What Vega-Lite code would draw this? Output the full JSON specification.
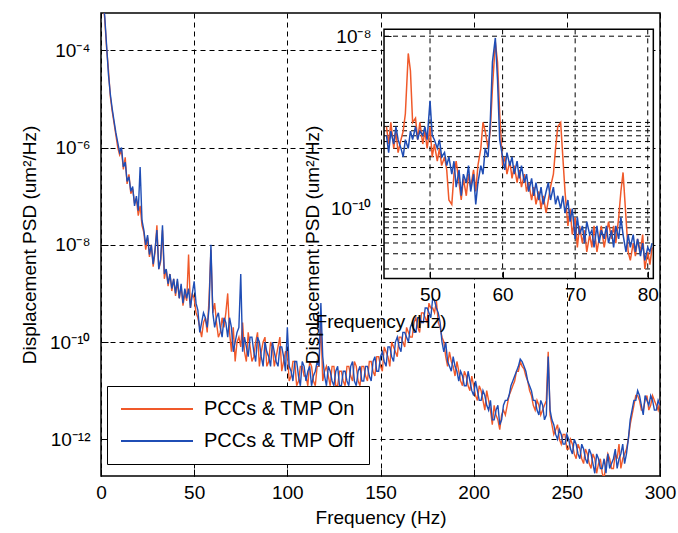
{
 "$schema": "https://vega.github.io/schema/vega-lite/v6.json",
 "width": 559, "height": 463,
 "autosize": {"type": "none"},
 "padding": {"left": 101, "top": 13, "right": 18, "bottom": 57},
 "background": "white",
 "config": {
   "font": "Liberation Sans",
   "view": {"stroke": "black", "strokeWidth": 1.5},
   "axis": {"labelFont": "Liberation Sans", "titleFont": "Liberation Sans", "labelFontSize": 19, "titleFontSize": 19, "titleFontWeight": "normal", "labelColor": "black", "titleColor": "black", "domainColor": "black", "tickColor": "black", "gridColor": "black", "gridOpacity": 1, "gridDash": [5, 4], "gridWidth": 1},
   "legend": {"labelFont": "Liberation Sans"}
 },
 "datasets": {
  "main": [
   {"f":1,"on":1e-3,"off":1.26e-3},{"f":2,"on":4.47e-4,"off":5.01e-4},{"f":3,"on":1.12e-4,"off":1.26e-4},{"f":4,"on":3.98e-5,"off":3.16e-5},{"f":5,"on":1.12e-5,"off":1.26e-5},{"f":6,"on":5.62e-6,"off":6.31e-6},{"f":7,"on":3.16e-6,"off":3.55e-6},{"f":8,"on":1.78e-6,"off":2.0e-6},{"f":9,"on":1e-6,"off":1.26e-6},{"f":10,"on":7.08e-7,"off":7.94e-7},
   {"f":11,"on":8.91e-7,"off":1e-6},{"f":12,"on":3.55e-7,"off":3.98e-7},{"f":13,"on":6.31e-7,"off":5.01e-7},{"f":14,"on":1.78e-7,"off":2.0e-7},{"f":15,"on":2.82e-7,"off":2.51e-7},{"f":16,"on":1.12e-7,"off":1.26e-7},{"f":17,"on":1.41e-7,"off":1.58e-7},{"f":18,"on":7.08e-8,"off":6.31e-8},{"f":19,"on":8.91e-8,"off":1e-7},{"f":20,"on":3.98e-8,"off":5.01e-8},
   {"f":21,"on":6.31e-8,"off":3.98e-7},{"f":22,"on":2.51e-8,"off":3.16e-8},{"f":23,"on":1.78e-8,"off":2.0e-8},{"f":24,"on":7.94e-9,"off":1e-8},{"f":25,"on":1.41e-8,"off":1.58e-8},{"f":26,"on":5.62e-9,"off":6.31e-9},{"f":27,"on":1e-8,"off":1e-8},{"f":28,"on":3.55e-9,"off":3.98e-9},{"f":29,"on":7.08e-9,"off":7.94e-9},{"f":30,"on":2.51e-8,"off":2.0e-8},
   {"f":31,"on":3.16e-9,"off":3.16e-9},{"f":32,"on":4.47e-9,"off":5.01e-9},{"f":33,"on":2.0e-8,"off":2.51e-8},{"f":34,"on":2.0e-9,"off":2.51e-9},{"f":35,"on":3.16e-9,"off":3.16e-9},{"f":36,"on":1.41e-9,"off":1.58e-9},{"f":37,"on":2.51e-9,"off":2.51e-9},{"f":38,"on":1.12e-9,"off":1.26e-9},{"f":39,"on":2.0e-9,"off":2.0e-9},{"f":40,"on":8.91e-10,"off":1e-9},
   {"f":41,"on":1.78e-9,"off":2.0e-9},{"f":42,"on":7.94e-10,"off":7.94e-10},{"f":43,"on":1.41e-9,"off":1.58e-9},{"f":44,"on":5.62e-10,"off":6.31e-10},{"f":45,"on":1e-9,"off":1.26e-9},{"f":46,"on":7.08e-10,"off":7.94e-10},{"f":47,"on":6.31e-9,"off":1.26e-9},{"f":48,"on":5.01e-10,"off":5.01e-10},{"f":49,"on":1e-9,"off":1e-9},{"f":50,"on":7.94e-10,"off":1.78e-9},
   {"f":52,"on":3.16e-10,"off":4.47e-10},{"f":54,"on":1.26e-10,"off":2.51e-10},{"f":56,"on":3.16e-10,"off":3.16e-10},{"f":58,"on":7.94e-10,"off":5.01e-10},{"f":59,"on":7.94e-9,"off":1e-8},{"f":60,"on":3.98e-10,"off":3.98e-10},{"f":62,"on":2.51e-10,"off":3.16e-10},{"f":64,"on":1.58e-10,"off":2.0e-10},{"f":66,"on":2.0e-10,"off":3.16e-10},{"f":68,"on":1e-9,"off":1.26e-10},
   {"f":70,"on":6.31e-11,"off":2.0e-10},{"f":72,"on":3.98e-11,"off":1e-10},{"f":74,"on":1.26e-10,"off":2.0e-10},{"f":75,"on":7.94e-11,"off":2.51e-9},{"f":76,"on":2.51e-10,"off":6.31e-11},{"f":78,"on":3.98e-11,"off":7.94e-11},{"f":80,"on":7.94e-11,"off":1.26e-10},{"f":82,"on":5.01e-11,"off":6.31e-11},{"f":84,"on":1.58e-10,"off":1.26e-10},{"f":86,"on":6.31e-11,"off":5.01e-11},
   {"f":88,"on":1.26e-10,"off":1e-10},{"f":90,"on":3.98e-11,"off":5.01e-11},{"f":92,"on":7.94e-11,"off":1e-10},{"f":94,"on":5.01e-11,"off":3.98e-11},{"f":96,"on":1.26e-10,"off":7.94e-11},{"f":98,"on":3.98e-11,"off":5.01e-11},{"f":100,"on":6.31e-11,"off":2.0e-10},{"f":102,"on":2.0e-11,"off":2.51e-11},{"f":104,"on":3.98e-11,"off":3.98e-11},{"f":106,"on":1.58e-11,"off":2.0e-11},
   {"f":108,"on":3.16e-11,"off":3.98e-11},{"f":110,"on":2.0e-11,"off":1.58e-11},{"f":112,"on":3.98e-11,"off":3.16e-11},{"f":114,"on":1.58e-11,"off":2.0e-11},{"f":116,"on":3.16e-11,"off":3.98e-11},{"f":118,"on":2.51e-10,"off":6.31e-10},{"f":120,"on":2.51e-11,"off":2.0e-11},{"f":122,"on":2.0e-11,"off":3.16e-11},{"f":124,"on":3.16e-11,"off":1.58e-11},{"f":126,"on":1.26e-11,"off":2.51e-11},
   {"f":128,"on":2.51e-11,"off":1.26e-11},{"f":130,"on":1.58e-11,"off":2.51e-11},{"f":132,"on":3.16e-11,"off":1.58e-11},{"f":134,"on":2.0e-11,"off":3.16e-11},{"f":136,"on":3.98e-11,"off":1.58e-11},{"f":138,"on":1.58e-11,"off":2.51e-11},{"f":140,"on":3.16e-11,"off":1.58e-11},{"f":142,"on":2.0e-11,"off":3.16e-11},{"f":144,"on":3.98e-11,"off":2.0e-11},{"f":146,"on":2.51e-11,"off":3.98e-11},
   {"f":148,"on":5.01e-11,"off":2.51e-11},{"f":150,"on":3.16e-11,"off":5.01e-11},{"f":152,"on":7.94e-11,"off":3.98e-11},{"f":154,"on":5.01e-11,"off":7.94e-11},{"f":156,"on":1e-10,"off":5.01e-11},{"f":158,"on":6.31e-11,"off":1e-10},{"f":160,"on":1.26e-10,"off":7.94e-11},{"f":162,"on":1e-10,"off":1.58e-10},{"f":164,"on":2.0e-10,"off":1.26e-10},{"f":166,"on":1.26e-10,"off":2.0e-10},
   {"f":168,"on":2.51e-10,"off":1.58e-10},{"f":170,"on":2.0e-10,"off":3.16e-10},{"f":172,"on":3.98e-10,"off":2.51e-10},{"f":174,"on":3.16e-10,"off":5.01e-10},{"f":176,"on":6.31e-10,"off":3.98e-10},{"f":178,"on":5.01e-10,"off":7.94e-10},{"f":180,"on":7.08e-10,"off":5.01e-10},{"f":182,"on":2.0e-10,"off":2.51e-10},{"f":184,"on":1e-10,"off":6.31e-11},{"f":186,"on":3.16e-11,"off":3.98e-11},
   {"f":188,"on":3.98e-11,"off":2.51e-11},{"f":190,"on":2.0e-11,"off":3.16e-11},{"f":192,"on":2.51e-11,"off":1.58e-11},{"f":194,"on":1.26e-11,"off":2.0e-11},{"f":196,"on":2.0e-11,"off":1.26e-11},{"f":198,"on":1e-11,"off":1.58e-11},{"f":200,"on":1.26e-11,"off":7.94e-12},{"f":202,"on":6.31e-12,"off":1e-11},{"f":204,"on":1e-11,"off":6.31e-12},{"f":206,"on":3.98e-12,"off":7.94e-12},
   {"f":208,"on":6.31e-12,"off":3.98e-12},{"f":210,"on":2.0e-12,"off":2.51e-12},{"f":212,"on":3.16e-12,"off":3.98e-12},{"f":214,"on":1.58e-12,"off":2.0e-12},{"f":216,"on":3.98e-12,"off":5.01e-12},{"f":218,"on":5.01e-12,"off":6.31e-12},{"f":220,"on":1e-11,"off":1.26e-11},{"f":222,"on":1.58e-11,"off":2.0e-11},{"f":224,"on":2.51e-11,"off":3.16e-11},{"f":226,"on":3.16e-11,"off":3.98e-11},
   {"f":228,"on":2.0e-11,"off":2.51e-11},{"f":230,"on":1e-11,"off":1.26e-11},{"f":232,"on":5.01e-12,"off":6.31e-12},{"f":234,"on":6.31e-12,"off":3.98e-12},{"f":236,"on":3.16e-12,"off":6.31e-12},{"f":238,"on":5.01e-12,"off":2.51e-12},{"f":240,"on":6.31e-11,"off":5.01e-11},{"f":242,"on":2.0e-12,"off":2.51e-12},{"f":244,"on":1.58e-12,"off":1.26e-12},{"f":246,"on":1e-12,"off":1.58e-12},
   {"f":248,"on":1.26e-12,"off":7.94e-13},{"f":250,"on":6.31e-13,"off":1.26e-12},{"f":252,"on":1e-12,"off":6.31e-13},{"f":254,"on":5.01e-13,"off":1e-12},{"f":256,"on":7.94e-13,"off":5.01e-13},{"f":258,"on":3.98e-13,"off":7.94e-13},{"f":260,"on":6.31e-13,"off":3.98e-13},{"f":262,"on":3.16e-13,"off":6.31e-13},{"f":264,"on":5.01e-13,"off":3.16e-13},{"f":266,"on":2.0e-13,"off":5.01e-13},
   {"f":268,"on":3.98e-13,"off":2.51e-13},{"f":270,"on":1.58e-13,"off":3.98e-13},{"f":272,"on":5.01e-13,"off":5.01e-13},{"f":274,"on":2.51e-13,"off":3.16e-13},{"f":276,"on":5.01e-13,"off":6.31e-13},{"f":278,"on":7.94e-13,"off":3.98e-13},{"f":280,"on":3.98e-13,"off":7.94e-13},{"f":282,"on":6.31e-13,"off":5.01e-13},{"f":284,"on":2.0e-12,"off":2.51e-12},{"f":286,"on":5.01e-12,"off":6.31e-12},
   {"f":288,"on":7.94e-12,"off":1e-11},{"f":290,"on":3.98e-12,"off":5.01e-12},{"f":292,"on":6.31e-12,"off":7.94e-12},{"f":294,"on":3.98e-12,"off":5.01e-12},{"f":296,"on":7.94e-12,"off":6.31e-12},{"f":298,"on":5.01e-12,"off":3.98e-12},{"f":300,"on":6.31e-12,"off":5.01e-12},
   {"f":51,"on":3.98e-10,"off":6.31e-10},{"f":53,"on":2.0e-10,"off":1.58e-10},{"f":55,"on":2.51e-10,"off":3.98e-10},{"f":57,"on":1.58e-10,"off":2.0e-10},{"f":61,"on":6.31e-10,"off":2.0e-10},{"f":63,"on":1.26e-10,"off":3.98e-10},{"f":65,"on":3.16e-10,"off":1.26e-10},{"f":67,"on":3.98e-10,"off":2.51e-10},{"f":69,"on":1.58e-10,"off":3.16e-10},{"f":71,"on":2.0e-10,"off":6.31e-11},
   {"f":73,"on":1e-10,"off":1.58e-10},{"f":77,"on":6.31e-11,"off":1.26e-10},{"f":79,"on":1.58e-10,"off":5.01e-11},{"f":81,"on":3.98e-11,"off":1.26e-10},{"f":83,"on":1e-10,"off":3.98e-11},{"f":85,"on":3.16e-11,"off":1e-10},{"f":87,"on":1e-10,"off":3.16e-11},{"f":89,"on":3.16e-11,"off":6.31e-11},{"f":91,"on":1e-10,"off":3.16e-11},{"f":93,"on":3.16e-11,"off":6.31e-11},
   {"f":95,"on":7.94e-11,"off":3.16e-11},{"f":97,"on":2.51e-11,"off":7.94e-11},{"f":99,"on":6.31e-11,"off":2.51e-11},{"f":101,"on":1.58e-11,"off":3.16e-11},{"f":103,"on":3.98e-11,"off":1.58e-11},{"f":105,"on":1.26e-11,"off":3.98e-11},{"f":107,"on":3.16e-11,"off":1.26e-11},{"f":109,"on":2.0e-11,"off":3.16e-11},{"f":111,"on":1.26e-11,"off":2.51e-11},{"f":113,"on":3.16e-11,"off":1.26e-11},
   {"f":115,"on":1.26e-11,"off":2.51e-11},{"f":117,"on":3.16e-11,"off":3.16e-11},{"f":119,"on":1.58e-11,"off":5.01e-11},{"f":121,"on":3.16e-11,"off":1.26e-11},{"f":123,"on":1.26e-11,"off":2.51e-11},{"f":125,"on":3.16e-11,"off":1.26e-11},{"f":127,"on":1.26e-11,"off":3.16e-11},{"f":129,"on":2.51e-11,"off":1.26e-11},{"f":131,"on":1.26e-11,"off":2.51e-11},{"f":133,"on":3.16e-11,"off":1.26e-11},
   {"f":135,"on":1.58e-11,"off":3.98e-11},{"f":137,"on":3.16e-11,"off":1.26e-11},{"f":139,"on":1.26e-11,"off":3.16e-11},{"f":141,"on":3.16e-11,"off":1.58e-11},{"f":143,"on":1.58e-11,"off":3.16e-11},{"f":145,"on":3.98e-11,"off":1.58e-11},{"f":147,"on":2.0e-11,"off":5.01e-11},{"f":149,"on":5.01e-11,"off":2.51e-11},{"f":151,"on":2.51e-11,"off":6.31e-11},{"f":153,"on":6.31e-11,"off":3.16e-11},
   {"f":155,"on":3.16e-11,"off":7.94e-11},{"f":157,"on":7.94e-11,"off":3.98e-11},{"f":159,"on":5.01e-11,"off":1.26e-10},{"f":161,"on":1.26e-10,"off":6.31e-11},{"f":163,"on":7.94e-11,"off":1.58e-10},{"f":165,"on":1.58e-10,"off":1e-10},{"f":167,"on":1.26e-10,"off":2.51e-10},{"f":169,"on":3.16e-10,"off":1.58e-10},{"f":171,"on":1.58e-10,"off":3.16e-10},{"f":173,"on":3.98e-10,"off":2.51e-10},
   {"f":175,"on":2.51e-10,"off":5.01e-10},{"f":177,"on":5.01e-10,"off":3.16e-10},{"f":179,"on":3.98e-10,"off":7.08e-10},{"f":181,"on":2.51e-10,"off":3.98e-10},{"f":183,"on":1.26e-10,"off":1e-10},{"f":185,"on":5.01e-11,"off":1e-10},{"f":187,"on":6.31e-11,"off":3.16e-11},{"f":189,"on":3.16e-11,"off":5.01e-11},{"f":191,"on":3.98e-11,"off":2.51e-11},{"f":193,"on":1.58e-11,"off":2.51e-11},
   {"f":195,"on":2.51e-11,"off":1.26e-11},{"f":197,"on":1.26e-11,"off":2.51e-11},{"f":199,"on":2.0e-11,"off":1e-11},{"f":201,"on":7.94e-12,"off":1.58e-11},{"f":203,"on":1.26e-11,"off":6.31e-12},{"f":205,"on":6.31e-12,"off":1e-11},{"f":207,"on":1e-11,"off":5.01e-12},{"f":209,"on":3.98e-12,"off":6.31e-12},{"f":211,"on":5.01e-12,"off":2.51e-12},{"f":213,"on":2.51e-12,"off":5.01e-12},
   {"f":215,"on":3.16e-12,"off":2.51e-12},{"f":217,"on":3.16e-12,"off":6.31e-12},{"f":219,"on":7.94e-12,"off":7.94e-12},{"f":221,"on":1.26e-11,"off":1.58e-11},{"f":223,"on":2.51e-11,"off":2.51e-11},{"f":225,"on":3.98e-11,"off":4.47e-11},{"f":227,"on":2.82e-11,"off":3.16e-11},{"f":229,"on":1.58e-11,"off":1.58e-11},{"f":231,"on":7.94e-12,"off":1e-11},{"f":233,"on":3.98e-12,"off":6.31e-12},
   {"f":235,"on":5.01e-12,"off":3.16e-12},{"f":237,"on":3.98e-12,"off":5.01e-12},{"f":239,"on":6.31e-12,"off":3.16e-12},{"f":241,"on":3.16e-12,"off":3.98e-12},{"f":243,"on":1.26e-12,"off":2.0e-12},{"f":245,"on":2.0e-12,"off":1e-12},{"f":247,"on":7.94e-13,"off":1.26e-12},{"f":249,"on":1.26e-12,"off":7.94e-13},{"f":251,"on":6.31e-13,"off":1e-12},{"f":253,"on":7.94e-13,"off":5.01e-13},
   {"f":255,"on":3.98e-13,"off":7.94e-13},{"f":257,"on":6.31e-13,"off":3.98e-13},{"f":259,"on":3.16e-13,"off":6.31e-13},{"f":261,"on":5.01e-13,"off":3.16e-13},{"f":263,"on":2.51e-13,"off":5.01e-13},{"f":265,"on":3.98e-13,"off":2.0e-13},{"f":267,"on":3.16e-13,"off":3.98e-13},{"f":269,"on":2.0e-13,"off":2.51e-13},{"f":271,"on":3.16e-13,"off":2.0e-13},{"f":273,"on":3.98e-13,"off":2.51e-13},
   {"f":275,"on":2.51e-13,"off":3.98e-13},{"f":277,"on":3.98e-13,"off":2.51e-13},{"f":279,"on":2.51e-13,"off":5.01e-13},{"f":281,"on":5.01e-13,"off":3.16e-13},{"f":283,"on":1e-12,"off":1e-12},{"f":285,"on":3.16e-12,"off":3.98e-12},{"f":287,"on":7.94e-12,"off":6.31e-12},{"f":289,"on":6.31e-12,"off":7.94e-12},{"f":291,"on":3.98e-12,"off":3.16e-12},{"f":293,"on":7.94e-12,"off":6.31e-12},
   {"f":295,"on":5.01e-12,"off":7.94e-12},{"f":297,"on":6.31e-12,"off":3.98e-12},{"f":299,"on":3.98e-12,"off":6.31e-12}
  ],
  "inset": [
   {"f":44.0,"on":8.91e-10,"off":7.08e-10},{"f":44.3,"on":5.62e-10,"off":4.47e-10},{"f":44.6,"on":1e-9,"off":7.94e-10},{"f":45.0,"on":5.0e-10,"off":5.62e-10},{"f":45.3,"on":7.94e-10,"off":8.91e-10},{"f":45.6,"on":4.47e-10,"off":6.31e-10},{"f":46.0,"on":6.31e-10,"off":5.0e-10},{"f":46.3,"on":7.94e-10,"off":3.98e-10},{"f":46.6,"on":1.26e-9,"off":6.31e-10},{"f":47.0,"on":6.31e-9,"off":5.0e-10},
   {"f":47.3,"on":3.98e-9,"off":7.94e-10},{"f":47.6,"on":1e-9,"off":6.31e-10},{"f":48.0,"on":1.12e-9,"off":8.91e-10},{"f":48.3,"on":6.31e-10,"off":6.31e-10},{"f":48.6,"on":1e-9,"off":7.94e-10},{"f":49.0,"on":5.62e-10,"off":7.08e-10},{"f":49.3,"on":7.94e-10,"off":8.91e-10},{"f":49.6,"on":5.0e-10,"off":6.31e-10},{"f":50.0,"on":8.91e-10,"off":1.78e-9},{"f":50.3,"on":3.98e-10,"off":7.08e-10},
   {"f":50.6,"on":5.62e-10,"off":6.31e-10},{"f":51.0,"on":3.55e-10,"off":5.0e-10},{"f":51.3,"on":5.0e-10,"off":6.31e-10},{"f":51.6,"on":3.16e-10,"off":3.98e-10},{"f":52.0,"on":3.98e-10,"off":4.47e-10},{"f":52.3,"on":2.82e-10,"off":3.16e-10},{"f":52.6,"on":1.26e-10,"off":3.98e-10},{"f":53.0,"on":1.12e-10,"off":2.51e-10},{"f":53.3,"on":2.51e-10,"off":3.55e-10},{"f":53.6,"on":3.55e-10,"off":1.78e-10},
   {"f":54.0,"on":2.0e-10,"off":2.82e-10},{"f":54.3,"on":1.26e-10,"off":1.41e-10},{"f":54.6,"on":2.24e-10,"off":2.51e-10},{"f":55.0,"on":1.41e-10,"off":2.0e-10},{"f":55.3,"on":2.51e-10,"off":3.16e-10},{"f":55.6,"on":1.78e-10,"off":1.58e-10},{"f":56.0,"on":2.82e-10,"off":2.51e-10},{"f":56.3,"on":1.58e-10,"off":1.12e-10},{"f":56.6,"on":3.16e-10,"off":2.0e-10},{"f":57.0,"on":5.0e-10,"off":3.16e-10},
   {"f":57.3,"on":1e-9,"off":2.51e-10},{"f":57.6,"on":7.94e-10,"off":5.0e-10},{"f":58.0,"on":5.0e-10,"off":3.98e-10},{"f":58.3,"on":7.94e-10,"off":1e-9},{"f":58.6,"on":2.51e-9,"off":5.01e-9},{"f":59.0,"on":8.51e-9,"off":9.55e-9},{"f":59.3,"on":5.01e-9,"off":3.16e-9},{"f":59.6,"on":1.26e-9,"off":6.31e-10},{"f":60.0,"on":3.16e-10,"off":3.98e-10},{"f":60.3,"on":3.98e-10,"off":2.82e-10},
   {"f":60.6,"on":2.51e-10,"off":4.47e-10},{"f":61.0,"on":3.55e-10,"off":3.16e-10},{"f":61.3,"on":2.24e-10,"off":3.98e-10},{"f":61.6,"on":3.16e-10,"off":2.51e-10},{"f":62.0,"on":2.0e-10,"off":3.55e-10},{"f":62.3,"on":2.82e-10,"off":2.24e-10},{"f":62.6,"on":1.78e-10,"off":3.16e-10},{"f":63.0,"on":2.51e-10,"off":2.0e-10},{"f":63.3,"on":1.58e-10,"off":2.51e-10},{"f":63.6,"on":2.0e-10,"off":1.58e-10},
   {"f":64.0,"on":1.26e-10,"off":2.24e-10},{"f":64.3,"on":1.78e-10,"off":1.41e-10},{"f":64.6,"on":1.12e-10,"off":2.0e-10},{"f":65.0,"on":1.58e-10,"off":1.26e-10},{"f":65.3,"on":1e-10,"off":1.78e-10},{"f":65.6,"on":1.41e-10,"off":1.12e-10},{"f":66.0,"on":8.91e-11,"off":1.58e-10},{"f":66.3,"on":1.26e-10,"off":2.0e-10},{"f":66.6,"on":1.78e-10,"off":1.26e-10},{"f":67.0,"on":2.51e-10,"off":1.78e-10},
   {"f":67.3,"on":5.01e-10,"off":1.12e-10},{"f":67.6,"on":8.91e-10,"off":1.41e-10},{"f":68.0,"on":1e-9,"off":1e-10},{"f":68.3,"on":3.98e-10,"off":1.41e-10},{"f":68.6,"on":1.58e-10,"off":8.91e-11},{"f":69.0,"on":6.31e-11,"off":1.26e-10},{"f":69.3,"on":1e-10,"off":7.08e-11},{"f":69.6,"on":5.01e-11,"off":1e-10},{"f":70.0,"on":7.94e-11,"off":4.47e-11},{"f":70.3,"on":3.55e-11,"off":7.94e-11},
   {"f":70.6,"on":6.31e-11,"off":5.01e-11},{"f":71.0,"on":3.98e-11,"off":6.31e-11},{"f":71.3,"on":5.62e-11,"off":3.98e-11},{"f":71.6,"on":3.16e-11,"off":7.08e-11},{"f":72.0,"on":5.01e-11,"off":5.01e-11},{"f":72.3,"on":3.55e-11,"off":5.62e-11},{"f":72.6,"on":6.31e-11,"off":3.55e-11},{"f":73.0,"on":3.16e-11,"off":6.31e-11},{"f":73.3,"on":4.47e-11,"off":3.98e-11},{"f":73.6,"on":6.31e-11,"off":5.62e-11},
   {"f":74.0,"on":3.55e-11,"off":4.47e-11},{"f":74.3,"on":5.01e-11,"off":6.31e-11},{"f":74.6,"on":7.08e-11,"off":3.98e-11},{"f":75.0,"on":4.47e-11,"off":5.62e-11},{"f":75.3,"on":6.31e-11,"off":3.55e-11},{"f":75.6,"on":3.98e-11,"off":6.31e-11},{"f":76.0,"on":7.94e-11,"off":4.47e-11},{"f":76.3,"on":1.58e-10,"off":7.94e-11},{"f":76.6,"on":2.63e-10,"off":5.01e-11},{"f":77.0,"on":7.94e-11,"off":3.16e-11},
   {"f":77.3,"on":3.16e-11,"off":5.01e-11},{"f":77.6,"on":2.51e-11,"off":3.55e-11},{"f":78.0,"on":3.98e-11,"off":5.01e-11},{"f":78.3,"on":2.82e-11,"off":3.16e-11},{"f":78.6,"on":4.47e-11,"off":4.47e-11},{"f":79.0,"on":3.16e-11,"off":2.82e-11},{"f":79.3,"on":5.01e-11,"off":3.98e-11},{"f":79.6,"on":2.0e-11,"off":2.51e-11},{"f":80.0,"on":3.16e-11,"off":3.55e-11},{"f":80.3,"on":2.24e-11,"off":3.16e-11},
   {"f":80.6,"on":3.55e-11,"off":3.98e-11}
  ],
  "frame": [{"flo": 43.66, "fhi": 80.77, "plo": 1.55e-11, "phi": 1.2e-8}],
  "igrid": [{"v":1e-8},{"v":1e-9},{"v":9e-10},{"v":8e-10},{"v":7e-10},{"v":6e-10},{"v":5e-10},{"v":4e-10},{"v":3e-10},{"v":2e-10},{"v":1e-10},{"v":9e-11},{"v":8e-11},{"v":7e-11},{"v":6e-11},{"v":5e-11},{"v":4e-11},{"v":3e-11},{"v":2e-11}],
  "vgrid": [{"g":50,"plo":1.55e-11,"phi":1.2e-8},{"g":60,"plo":1.55e-11,"phi":1.2e-8},{"g":70,"plo":1.55e-11,"phi":1.2e-8},{"g":80,"plo":1.55e-11,"phi":1.2e-8}]
 },
 "layer": [
  {
   "data": {"name": "main"},
   "transform": [{"fold": ["on", "off"], "as": ["s", "psd"]}],
   "encoding": {
    "x": {"field": "f", "type": "quantitative", "scale": {"domain": [0, 300], "nice": false, "zero": false},
          "axis": {"title": "Frequency (Hz)", "values": [0, 50, 100, 150, 200, 250, 300], "grid": true, "tickSize": -7, "labelPadding": 14, "titlePadding": 6, "domain": false, "labelFlush": false}},
    "y": {"field": "psd", "type": "quantitative", "scale": {"type": "log", "domain": [1.758e-13, 5.848e-4], "nice": false},
          "axis": {"title": "Displacement PSD (um²/Hz)", "values": [1e-12, 1e-10, 1e-8, 1e-6, 1e-4], "grid": true, "tickSize": -7, "labelPadding": 18, "titlePadding": 10, "domain": false,
                   "labelExpr": "round(log(datum.value)/LN10) == -4 ? '10⁻⁴' : round(log(datum.value)/LN10) == -6 ? '10⁻⁶' : round(log(datum.value)/LN10) == -8 ? '10⁻⁸' : round(log(datum.value)/LN10) == -10 ? '10⁻¹⁰' : '10⁻¹²'"}},
    "color": {"field": "s", "type": "nominal", "scale": {"domain": ["on", "off"], "range": ["#F0592A", "#1F4DB5"]},
              "legend": {"title": null, "orient": "none", "legendX": 6, "legendY": 373, "symbolType": "stroke", "symbolSize": 5184, "clipHeight": 20, "symbolStrokeWidth": 2, "labelFontSize": 20, "labelColor": "black", "labelOffset": 10, "rowPadding": 12, "padding": 13, "strokeColor": "black", "fillColor": "white", "cornerRadius": 0,
                         "labelExpr": "datum.label == 'on' ? 'PCCs & TMP On' : 'PCCs & TMP Off'"}}
   },
   "layer": [
    {"transform": [{"filter": "datum.s == 'on'"}], "mark": {"type": "line", "strokeWidth": 1.4, "clip": true}},
    {"transform": [{"filter": "datum.s == 'off'"}], "mark": {"type": "line", "strokeWidth": 1.4, "clip": true}}
   ]
  },
  {
   "layer": [
    {
     "data": {"name": "frame"},
     "mark": {"type": "rect", "fill": "white"},
     "encoding": {
      "x": {"field": "flo", "type": "quantitative", "scale": {"domain": [4.66, 81.69], "nice": false, "zero": false},
            "axis": {"orient": "bottom", "offset": -197.7, "title": "Frequency (Hz)", "values": [50, 60, 70, 80], "grid": false, "domain": false, "tickSize": -7, "labelPadding": 14, "titlePadding": 8, "labelFlush": false, "zindex": 1}},
      "x2": {"field": "fhi"},
      "y": {"field": "phi", "type": "quantitative", "scale": {"type": "log", "domain": [7.94e-14, 1.858e-8], "nice": false},
            "axis": {"orient": "left", "offset": -283, "title": "Displacement PSD (um²/Hz)", "values": [1e-10, 1e-8], "grid": false, "domain": false, "tickSize": -7, "labelPadding": 20, "titlePadding": 8, "zindex": 1,
                     "labelExpr": "round(log(datum.value)/LN10) == -8 ? '10⁻⁸' : '10⁻¹⁰'"}},
      "y2": {"field": "plo"}
     }
    },
    {
     "data": {"name": "igrid"},
     "mark": {"type": "rule", "color": "black", "strokeDash": [5, 4], "strokeWidth": 1},
     "encoding": {"y": {"field": "v", "type": "quantitative"}, "x": {"datum": 43.66, "type": "quantitative"}, "x2": {"datum": 80.77}}
    },
    {
     "data": {"name": "vgrid"},
     "mark": {"type": "rule", "color": "black", "strokeDash": [5, 4], "strokeWidth": 1},
     "encoding": {"x": {"field": "g", "type": "quantitative"}, "y": {"field": "phi", "type": "quantitative"}, "y2": {"field": "plo"}}
    },
    {
     "data": {"name": "inset"},
     "transform": [{"fold": ["on", "off"], "as": ["s", "psd"]}, {"filter": "datum.s == 'on'"}],
     "mark": {"type": "line", "strokeWidth": 1.5},
     "encoding": {"x": {"field": "f", "type": "quantitative"}, "y": {"field": "psd", "type": "quantitative"}, "color": {"field": "s", "type": "nominal"}}
    },
    {
     "data": {"name": "inset"},
     "transform": [{"fold": ["on", "off"], "as": ["s", "psd"]}, {"filter": "datum.s == 'off'"}],
     "mark": {"type": "line", "strokeWidth": 1.5},
     "encoding": {"x": {"field": "f", "type": "quantitative"}, "y": {"field": "psd", "type": "quantitative"}, "color": {"field": "s", "type": "nominal"}}
    },
    {
     "data": {"name": "frame"},
     "mark": {"type": "rect", "fill": null, "stroke": "black", "strokeWidth": 1.5},
     "encoding": {"x": {"field": "flo", "type": "quantitative"}, "x2": {"field": "fhi"}, "y": {"field": "phi", "type": "quantitative"}, "y2": {"field": "plo"}}
    }
   ]
  }
 ],
 "resolve": {"scale": {"x": "independent", "y": "independent"}}
}
